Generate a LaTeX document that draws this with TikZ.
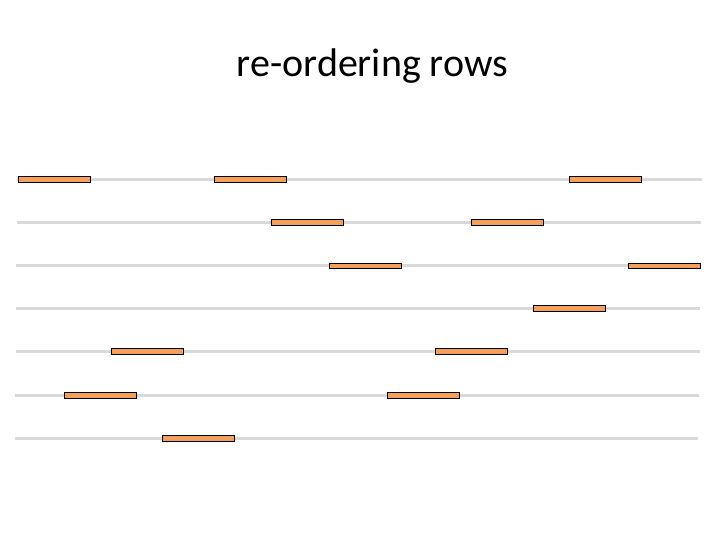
\documentclass[tikz,border=0pt]{standalone}
\usepackage{fontspec}
\setmainfont{Carlito}
\definecolor{rowgray}{HTML}{D9D9D9}
\definecolor{barfill}{HTML}{F2A05C}
\tikzset{
  rowline/.style={draw=rowgray, line width=3pt},
  bar/.style={draw=black, fill=barfill, line width=0.8pt, minimum width=72pt, minimum height=5.5pt, inner sep=0pt, outer sep=0pt, anchor=west}
}
\begin{document}
\begin{tikzpicture}[x=1pt,y=1pt]
\useasboundingbox (0,0) rectangle (720,540);
\node[font=\fontsize{40}{48}\selectfont, anchor=center] (title) at (372.5,474) {re-ordering rows};
% row lines
\foreach \i/\y/\xa/\xb in {1/179.5/17/702, 2/222.5/17/701, 3/266/16/701, 4/308.5/16/700, 5/351.5/16/700, 6/395.5/15/699, 7/438.5/15/698}{
  \coordinate (l\i a) at (\xa,540-\y);
  \coordinate (l\i b) at (\xb,540-\y);
  \draw[rowline] (l\i a) -- (l\i b);
}
% bars
\node[bar] (b11) at (18,540-179.5) {};
\node[bar] (b12) at (214,540-179.5) {};
\node[bar] (b13) at (569,540-179.5) {};
\node[bar] (b21) at (271,540-222.5) {};
\node[bar] (b22) at (471,540-222.5) {};
\node[bar] (b31) at (329,540-266) {};
\node[bar] (b32) at (628,540-266) {};
\node[bar] (b41) at (533,540-308.5) {};
\node[bar] (b51) at (111,540-351.5) {};
\node[bar] (b52) at (435,540-351.5) {};
\node[bar] (b61) at (64,540-395.5) {};
\node[bar] (b62) at (387,540-395.5) {};
\node[bar] (b71) at (162,540-438.5) {};
\end{tikzpicture}
\end{document}
